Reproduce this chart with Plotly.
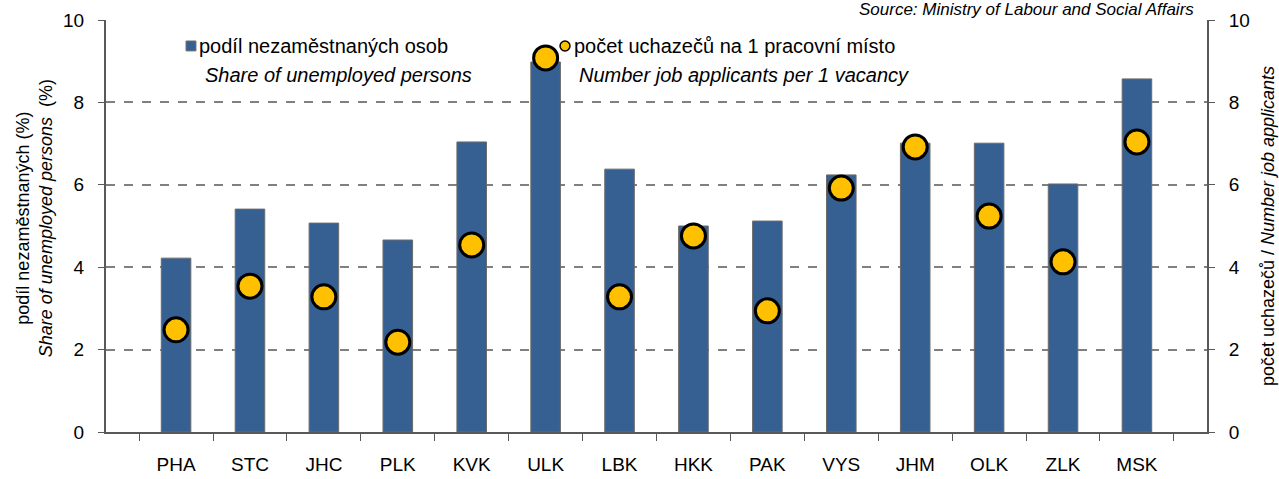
import plotly.graph_objects as go

# Kraje (regions)
regions = ["PHA", "STC", "JHC", "PLK", "KVK", "ULK", "LBK", "HKK", "PAK", "VYS", "JHM", "OLK", "ZLK", "MSK"]

# podíl nezaměstnaných osob (%)
share_unemployed = [4.22, 5.41, 5.07, 4.66, 7.04, 8.98, 6.38, 5.0, 5.12, 6.24, 7.01, 7.01, 6.02, 8.57]

# počet uchazečů na 1 pracovní místo
applicants_per_vacancy = [2.48, 3.54, 3.28, 2.18, 4.54, 9.08, 3.28, 4.76, 2.94, 5.92, 6.92, 5.24, 4.13, 7.04]

axis_ticks = [0, 2, 4, 6, 8, 10]

BLUE = "#376092"
YELLOW = "#FFC000"
FONT = "Liberation Sans"

fig = go.Figure()

fig.add_trace(go.Bar(
    x=regions,
    y=share_unemployed,
    width=0.4,
    marker=dict(color=BLUE, line=dict(color="#6b6b6b", width=1)),
    showlegend=False,
))

fig.add_trace(go.Scatter(
    x=regions,
    y=applicants_per_vacancy,
    yaxis="y2",
    mode="markers",
    marker=dict(color=YELLOW, size=24, line=dict(color="black", width=3)),
    showlegend=False,
))

# legenda (ručně)
fig.add_shape(type="rect", xref="paper", yref="paper",
              x0=0.0727, x1=0.0817, y0=0.925, y1=0.949,
              fillcolor=BLUE, line=dict(color="#6b6b6b", width=1))
fig.add_shape(type="circle", xref="paper", yref="paper",
              x0=0.4124, x1=0.4214, y0=0.925, y1=0.949,
              fillcolor=YELLOW, line=dict(color="black", width=1.5))

legend_items = [
    (0.083, 0.937, "podíl nezaměstnaných osob"),
    (0.088, 0.866, "<i>Share of unemployed persons</i>"),
    (0.423, 0.937, "počet uchazečů na 1 pracovní místo"),
    (0.428, 0.866, "<i>Number job applicants per 1 vacancy</i>"),
]
for x, y, txt in legend_items:
    fig.add_annotation(x=x, y=y, xref="paper", yref="paper", text=txt,
                       showarrow=False, xanchor="left", yanchor="middle",
                       font=dict(family=FONT, size=20, color="black"))

fig.add_annotation(x=0.99, y=1.0, xref="paper", yref="paper",
                   text="<i>Source: Ministry of Labour and Social Affairs</i>",
                   showarrow=False, xanchor="right", yanchor="bottom", yshift=-1,
                   font=dict(family=FONT, size=17, color="black"))

# popisky os
fig.add_annotation(x=-0.065, y=0.52, xref="paper", yref="paper",
                   text="podíl nezaměstnaných (%)<br><i>Share of unemployed persons</i>  (%)",
                   showarrow=False, textangle=-90, xanchor="center", yanchor="middle",
                   font=dict(family=FONT, size=18, color="black"))
fig.add_annotation(x=1.0555, y=0.5, xref="paper", yref="paper",
                   text="počet uchazečů / <i>Number job applicants</i>",
                   showarrow=False, textangle=-90, xanchor="center", yanchor="middle",
                   font=dict(family=FONT, size=18, color="black"))

axis_common = dict(
    range=[0, 10],
    tickvals=axis_ticks,
    showline=True,
    linecolor="#595959",
    linewidth=2,
    ticks="outside",
    ticklen=6,
    tickcolor="#595959",
    ticklabelstandoff=10,
    tickfont=dict(family=FONT, size=19, color="black"),
    zeroline=False,
    automargin=False,
)

fig.update_layout(
    width=1279,
    height=479,
    margin=dict(l=106, r=72, t=20, b=47),
    plot_bgcolor="white",
    paper_bgcolor="white",
    bargap=0.6,
    xaxis=dict(
        showline=True,
        linecolor="#595959",
        linewidth=2,
        ticks="outside",
        tickson="boundaries",
        ticklen=7,
        tickcolor="#595959",
        ticklabelstandoff=14,
        tickfont=dict(family=FONT, size=19, color="black"),
        showgrid=False,
        automargin=False,
    ),
    yaxis=dict(
        **axis_common,
        showgrid=True,
        gridcolor="#808080",
        griddash="dash",
        gridwidth=1.5,
    ),
    yaxis2=dict(
        **axis_common,
        overlaying="y",
        side="right",
        showgrid=False,
    ),
)

fig.write_html("out.html", config={"displayModeBar": False},
               post_script="document.body.style.margin='0';")
